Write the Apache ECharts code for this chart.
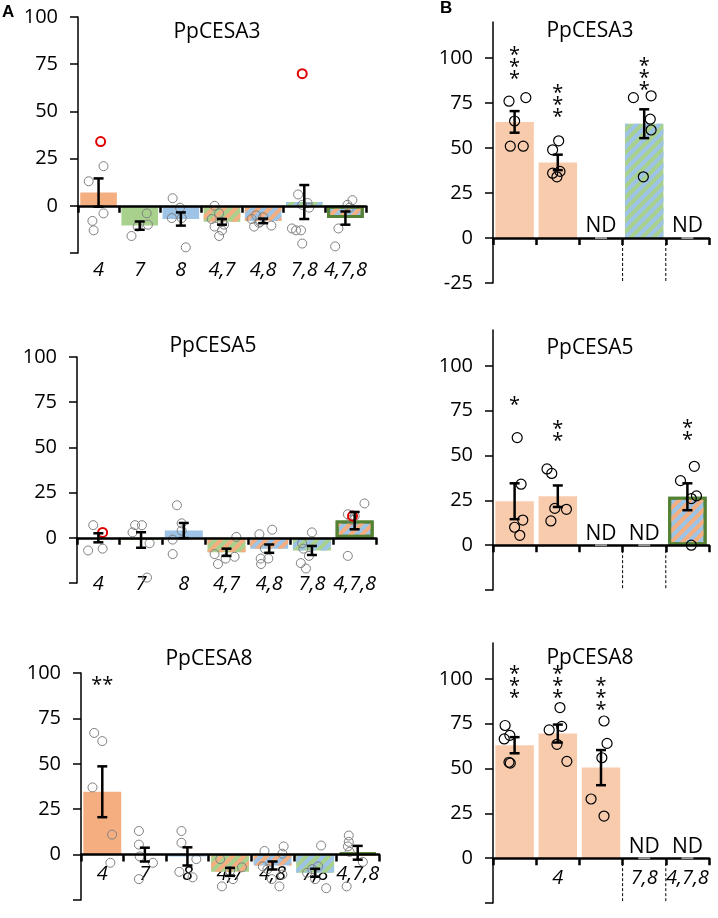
<!DOCTYPE html>
<html>
<head>
<meta charset="utf-8">
<script src="https://cdn.jsdelivr.net/npm/echarts@6/dist/echarts.min.js"></script>
<style>
  html, body { margin: 0; padding: 0; background: #fff; }
  #chart { width: 718px; height: 918px; }
</style>
</head>
<body>
<div id="chart"></div>
<script>
// categories (x axis labels)
const catsA = ['4', '7', '8', '4,7', '4,8', '7,8', '4,7,8'];
const catsB = ['', '', '', '', ''];
const catsB8 = ['', '4', '', '7,8', '4,7,8'];

// which fill each bar gets
const fillA = ['4', '7', '8', '4,7', '4,8', '7,8', '4,7,8'];
const fillB3 = ['4B', '4B', 'nd', '7,8', 'nd'];
const fillB5 = ['4B', '4B', 'nd', 'nd', '4,7,8'];
const fillB8 = ['4B', '4B', '4B', 'nd', 'nd'];

// A - PpCESA3
const a3Mean = [7, -10.5, -7, -8.5, -8, 2, -6.5];
const a3Err = [7.5, 2.2, 3.5, 1.5, 1.2, 9, 3.5];
// [category, jitter, value]
const a3Pts = [
  [0, 0.12, 21], [0, -0.24, 13], [0, 0.12, -4], [0, -0.15, -8], [0, -0.12, -13],
  [1, -0.2, -16], [1, 0.17, -4], [1, 0.2, -10], [1, -0.05, -11],
  [2, -0.2, 4], [2, -0.02, -1], [2, -0.22, -6.5], [2, 0.02, -6.5], [2, 0.12, -22],
  [3, -0.18, 0], [3, -0.07, -4], [3, -0.25, -7], [3, 0, -8.5], [3, -0.18, -11], [3, 0, -13], [3, -0.07, -16], [3, 0.05, -10],
  [4, -0.28, -7], [4, -0.17, -5], [4, -0.07, -8.5], [4, -0.22, -11], [4, 0.2, -10.5], [4, 0, -6], [4, -0.1, -9],
  [5, -0.15, 6], [5, -0.05, 0.5], [5, 0.08, 1.5], [5, 0.12, -1], [5, -0.3, -12], [5, -0.2, -13], [5, -0.08, -13], [5, -0.05, -20],
  [6, 0.17, 3], [6, 0.05, 0.5], [6, -0.17, -12], [6, -0.25, -21.5], [6, 0.1, -1]
];
const a3Red = [[0, 0.05, 34], [5, -0.05, 70]];

// A - PpCESA5
const a5Mean = [0, -1.2, 4, -8, -6, -7, 9.5];
const a5Err = [2.5, 4.3, 4.2, 2, 2.3, 2.5, 4.8];
const a5Pts = [
  [0, -0.12, 7], [0, -0.24, -7], [0, 0.1, -6],
  [1, -0.14, 7], [1, 0.02, 7], [1, -0.2, 3], [1, 0.2, -3], [1, 0.14, -22],
  [2, -0.16, 18], [2, -0.05, 8], [2, -0.05, 4], [2, -0.26, -1], [2, -0.26, -9],
  [3, -0.2, -14.5], [3, -0.02, -11.5], [3, 0.23, 0.5], [3, 0.19, -10.5], [3, -0.28, -9],
  [4, -0.23, 2], [4, 0.07, 4.5], [4, -0.2, -11.5], [4, -0.19, -14.5], [4, -0.02, -11.5], [4, -0.1, -6],
  [5, 0, 3], [5, -0.23, -3], [5, -0.26, -14], [5, -0.14, -17], [5, -0.07, -10], [5, -0.2, -6],
  [6, 0.23, 19], [6, -0.16, 13], [6, 0, 12], [6, -0.16, -10], [6, -0.07, 10]
];
const a5Red = [[0, 0.1, 3], [6, -0.05, 12]];

// A - PpCESA8
const a8Mean = [34.6, 0, -1, -9.5, -6, -10, 1];
const a8Err = [14, 3.8, 5, 2.2, 2.2, 2.2, 3.8];
const a8Pts = [
  [0, -0.19, 67], [0, 0, 62.5], [0, -0.23, 37], [0, 0.23, 11], [0, 0.19, -4.5],
  [1, -0.14, 13], [1, -0.14, 5.5], [1, -0.12, -1], [1, 0.19, -4.5], [1, -0.14, -13.5],
  [2, -0.14, 13], [2, -0.14, 6.5], [2, 0.21, -2.5], [2, -0.19, -9.5], [2, 0.12, -12.5],
  [3, -0.23, -2.5], [3, 0.28, -7], [3, -0.19, -17.5], [3, 0.07, -13.5], [3, 0, -9],
  [4, -0.19, 2], [4, 0.26, 4.5], [4, 0.23, 0.5], [4, -0.23, -6.5], [4, -0.12, -8], [4, 0.23, -11], [4, 0.16, -17.5], [4, -0.02, -13.5],
  [5, 0.14, 5], [5, 0.07, -6.5], [5, -0.19, -10], [5, 0, -13.5], [5, 0.26, -18.5], [5, -0.07, -8],
  [6, -0.21, 10.5], [6, -0.21, 7], [6, -0.23, 4.5], [6, -0.19, 1.5], [6, 0.12, -4], [6, -0.26, -17.5]
];
const a8Stars = [[0, 93, '**']];

// B - PpCESA3
const b3Mean = [64.5, 42, null, 63.5, null];
const b3Err = [6, 4.3, null, 8, null];
const b3Pts = [
  [0, -0.13, 76], [0, 0.26, 78], [0, 0, 65], [0, -0.1, 51], [0, 0.2, 51],
  [1, -0.12, 49], [1, 0.02, 54], [1, -0.12, 36], [1, -0.02, 34], [1, 0.05, 37],
  [3, -0.25, 78], [3, 0.16, 79], [3, 0.14, 66], [3, 0.16, 60], [3, -0.02, 34]
];
const b3Stars = [[0, 95, '*\n*\n*'], [1, 74, '*\n*\n*'], [3, 89, '*\n*\n*']];
const b3Nd = [2, 4];

// B - PpCESA5
const b5Mean = [24.5, 27.3, null, null, 27];
const b5Err = [10, 6, null, null, 7.5];
const b5Pts = [
  [0, 0.06, 60], [0, 0.15, 34], [0, 0.19, 14], [0, 0, 10], [0, 0.12, 5.5],
  [1, -0.25, 42.5], [1, -0.14, 40], [1, -0.07, 20.5], [1, 0.2, 20], [1, -0.16, 13.5],
  [4, -0.16, 36], [4, 0.16, 44], [4, 0.21, 27.5], [4, 0.09, 26], [4, 0.09, 0]
];
const b5Stars = [[0, 78, '*'], [1, 61, '*\n*'], [4, 62, '*\n*']];
const b5Nd = [2, 3];

// B - PpCESA8
const b8Mean = [63, 69.5, 50.5, null, null];
const b8Err = [4.5, 5, 9.8, null, null];
const b8Pts = [
  [0, -0.22, 74], [0, -0.24, 66.5], [0, -0.11, 68.5], [0, -0.13, 53.5], [0, -0.1, 53],
  [1, 0.05, 84], [1, -0.2, 71.5], [1, 0.09, 73.5], [1, -0.02, 63.5], [1, 0.21, 54],
  [2, 0.07, 76.5], [2, 0.14, 64], [2, 0.02, 56], [2, -0.23, 33], [2, 0.07, 23.5]
];
const b8Stars = [[0, 96, '*\n*\n*'], [1, 96, '*\n*\n*'], [2, 89, '*\n*\n*']];
const b8Nd = [3, 4];

// y tick values
const ticksY = [-25, 0, 25, 50, 75, 100];
const labelsY = [0, 25, 50, 75, 100];

const ORANGE = '#F4AE80';
const PEACH = '#F8CBAD';
const GREEN = '#A9D18E';
const BLUE = '#9DC3E6';
const DKGREEN = '#548235';
const FONT = 'Open Sans';

function stripes(color) {
  return {
    symbol: 'rect',
    symbolSize: 1,
    dashArrayX: [1, 0],
    dashArrayY: [4, 4],
    rotation: -Math.PI / 4,
    color: color
  };
}

function fillStyle(f) {
  switch (f) {
    case '4': return { color: ORANGE };
    case '4B': return { color: PEACH };
    case '7': return { color: GREEN };
    case '8': return { color: BLUE };
    case '4,7': return { color: GREEN, decal: stripes(ORANGE) };
    case '4,8': return { color: BLUE, decal: stripes(ORANGE) };
    case '7,8': return { color: GREEN, decal: stripes(BLUE) };
    case '4,7,8': return { color: BLUE, decal: stripes(ORANGE), borderColor: DKGREEN, borderWidth: 3 };
  }
  return {};
}

function errRender(params, api) {
  const cat = api.value(0);
  const m = api.value(1);
  const e = api.value(2);
  const hi = api.coord([cat, m + e]);
  const lo = api.coord([cat, m - e]);
  const cap = 5;
  const style = { stroke: '#000', lineWidth: 2.5 };
  return {
    type: 'group',
    children: [
      { type: 'line', shape: { x1: hi[0], y1: hi[1], x2: lo[0], y2: lo[1] }, style: style },
      { type: 'line', shape: { x1: hi[0] - cap, y1: hi[1], x2: hi[0] + cap, y2: hi[1] }, style: style },
      { type: 'line', shape: { x1: lo[0] - cap, y1: lo[1], x2: lo[0] + cap, y2: lo[1] }, style: style }
    ]
  };
}

function circleRender(color, width, r) {
  return function (params, api) {
    const p = api.coord([api.value(0), api.value(2)]);
    const w = api.size([1, 0])[0];
    return {
      type: 'circle',
      shape: { cx: p[0] + api.value(1) * w, cy: p[1], r: r },
      style: { fill: 'none', stroke: color, lineWidth: width }
    };
  };
}

function starRender(list) {
  return function (params, api) {
    const p = api.coord([api.value(0), api.value(1)]);
    return {
      type: 'text',
      x: p[0],
      y: p[1],
      style: {
        text: list[params.dataIndex][2],
        fontFamily: FONT,
        fontSize: 20,
        lineHeight: 12,
        fill: '#000',
        align: 'center',
        verticalAlign: 'middle'
      }
    };
  };
}

function ndRender(params, api) {
  const p = api.coord([api.value(0), 0]);
  return {
    type: 'group',
    children: [
      { type: 'line', shape: { x1: p[0] - 6, y1: p[1], x2: p[0] + 6, y2: p[1] }, style: { stroke: '#999', lineWidth: 2 } },
      {
        type: 'text', x: p[0], y: p[1] - 1,
        style: { text: 'ND', fontFamily: FONT, fontSize: 21, fill: '#000', align: 'center', verticalAlign: 'bottom' }
      }
    ]
  };
}

function dividerRender(params, api) {
  const top = api.coord([api.value(0), 0]);
  const bot = api.coord([api.value(0), -25]);
  const x = top[0] + api.size([1, 0])[0] / 2;
  return {
    type: 'line',
    shape: { x1: x, y1: top[1], x2: x, y2: bot[1] },
    style: { stroke: '#000', lineWidth: 1, lineDash: [3, 2] }
  };
}

const grids = [];
const xAxes = [];
const yAxes = [];
const series = [];

function addPanel(box, cats, labelOffset, yMax, yLabels, fills, means, errs, pts, ptColor, ptWidth, ptR, red, stars, nd, dividers) {
  const gi = grids.length;
  const xi = xAxes.length;
  grids.push({ left: box[0], top: box[1], width: box[2], height: box[3] });
  // zero line with ticks
  xAxes.push({
    gridIndex: gi,
    type: 'category',
    data: cats,
    z: 5,
    axisLine: { onZero: true, lineStyle: { color: '#000', width: 2.5 } },
    axisTick: { show: true, length: 7, lineStyle: { color: '#000', width: 2.5 } },
    axisLabel: { show: false }
  });
  // category names, placed near the bottom of the panel
  xAxes.push({
    gridIndex: gi,
    type: 'category',
    data: cats,
    position: 'bottom',
    offset: labelOffset,
    axisLine: { show: false, onZero: false },
    axisTick: { show: false },
    axisLabel: { interval: 0, margin: 0, fontFamily: FONT, fontSize: 20, fontStyle: 'italic', color: '#000' }
  });
  yAxes.push({
    gridIndex: gi,
    type: 'value',
    min: -25,
    max: yMax,
    interval: 25,
    splitLine: { show: false },
    axisLine: { show: true, lineStyle: { color: '#000', width: 1.5 } },
    axisTick: { show: true, length: 8, customValues: ticksY, lineStyle: { color: '#000', width: 1.5 } },
    axisLabel: { customValues: yLabels, margin: 20, fontFamily: FONT, fontSize: 20, color: '#000' }
  });
  const base = { xAxisIndex: xi, yAxisIndex: gi };
  series.push(Object.assign({
    type: 'bar',
    barCategoryGap: '11%',
    data: means.map((m, i) => fills[i] === 'nd' ? null : { value: m, itemStyle: fillStyle(fills[i]) })
  }, base));
  series.push(Object.assign({
    type: 'custom',
    z: 4,
    renderItem: circleRender(ptColor, ptWidth, ptR),
    encode: { x: 0, y: 2 },
    data: pts
  }, base));
  if (red) {
    series.push(Object.assign({
      type: 'custom',
      z: 4,
      renderItem: circleRender('#E00000', 2, 4.5),
      encode: { x: 0, y: 2 },
      data: red
    }, base));
  }
  series.push(Object.assign({
    type: 'custom',
    z: 6,
    renderItem: errRender,
    data: means.map((m, i) => [i, m, errs[i]]).filter(d => d[1] !== null)
  }, base));
  if (stars) {
    series.push(Object.assign({
      type: 'custom',
      z: 6,
      renderItem: starRender(stars),
      data: stars.map(s => [s[0], s[1]])
    }, base));
  }
  if (nd) {
    series.push(Object.assign({
      type: 'custom',
      z: 6,
      renderItem: ndRender,
      data: nd.map(c => [c, 0])
    }, base));
  }
  if (dividers) {
    series.push(Object.assign({
      type: 'custom',
      z: 6,
      renderItem: dividerRender,
      data: dividers.map(c => [c, 0])
    }, base));
  }
}

const GREY = '#808080';
addPanel([78, 17, 288, 236], catsA, 7, 100, labelsY, fillA, a3Mean, a3Err, a3Pts, GREY, 1, 4.5, a3Red, null, null, null);
addPanel([77, 357, 299, 226], catsA, -9, 100, labelsY, fillA, a5Mean, a5Err, a5Pts, GREY, 1, 4.5, a5Red, null, null, null);
addPanel([81, 673, 298, 227], catsA, -36, 100, labelsY, fillA, a8Mean, a8Err, a8Pts, GREY, 1, 4.5, null, a8Stars, null, null);
addPanel([493, 22, 216, 261], catsB, 0, 120, ticksY, fillB3, b3Mean, b3Err, b3Pts, '#000', 1.2, 5, null, b3Stars, b3Nd, [2, 3]);
addPanel([493, 330, 216, 260], catsB, 0, 120, labelsY, fillB5, b5Mean, b5Err, b5Pts, '#000', 1.2, 5, null, b5Stars, b5Nd, [2, 3]);
addPanel([493, 643, 216, 260], catsB8, -35, 120, labelsY, fillB8, b8Mean, b8Err, b8Pts, '#000', 1.2, 5, null, b8Stars, b8Nd, [2, 3]);

function panelTitle(text, x, y) {
  return { text: text, left: x, top: y, textAlign: 'center', padding: 0, textStyle: { fontFamily: FONT, fontSize: 21, fontWeight: 'normal', color: '#000' } };
}

const option = {
  animation: false,
  backgroundColor: '#fff',
  title: [
    { text: 'A', left: 2, top: 4, padding: 0, textStyle: { fontFamily: 'Liberation Sans', fontSize: 17, fontWeight: 'bold', color: '#000' } },
    { text: 'B', left: 440, top: 0, padding: 0, textStyle: { fontFamily: 'Liberation Sans', fontSize: 17, fontWeight: 'bold', color: '#000' } },
    panelTitle('PpCESA3', 217, 22),
    panelTitle('PpCESA5', 213, 336),
    panelTitle('PpCESA8', 209, 649),
    panelTitle('PpCESA3', 590, 21),
    panelTitle('PpCESA5', 590, 338),
    panelTitle('PpCESA8', 590, 648)
  ],
  grid: grids,
  xAxis: xAxes,
  yAxis: yAxes,
  series: series
};

const myChart = echarts.init(document.getElementById('chart'), null, { renderer: 'canvas' });
myChart.setOption(option);
window.addEventListener('resize', myChart.resize);
</script>
</body>
</html>
